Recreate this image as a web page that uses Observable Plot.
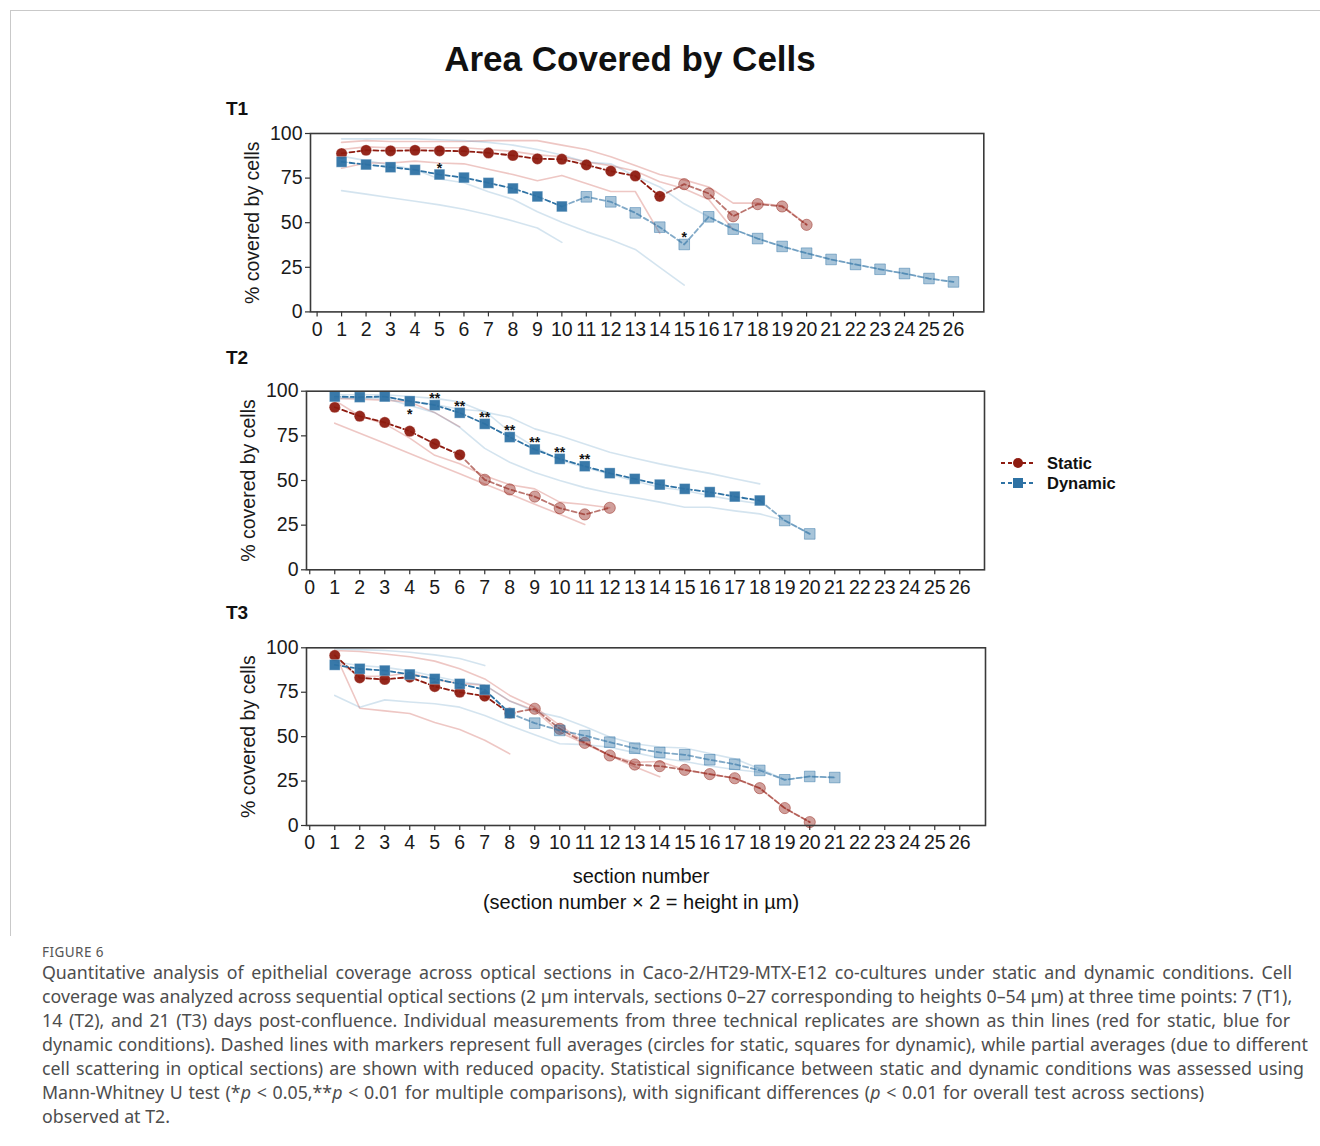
<!DOCTYPE html>
<html><head><meta charset="utf-8">
<script src="https://cdn.jsdelivr.net/npm/d3@7"></script>
<script src="https://cdn.jsdelivr.net/npm/@observablehq/plot@0.6"></script>
<style>
body{margin:0;background:#fff;width:1320px;height:1146px;position:relative;overflow:hidden;font-family:"Liberation Sans",Arial,sans-serif;color:#111;}
.abs{position:absolute;white-space:nowrap;line-height:1;}
.cap{position:absolute;left:42px;white-space:nowrap;font-family:"Noto Sans",sans-serif;font-size:16.6px;color:#4d4d4d;line-height:1;}
.panel svg, .panel svg text{font-family:"Liberation Sans",Arial,sans-serif !important;}
</style></head><body>
<div class="abs" style="left:10px;top:10px;width:1310px;height:925px;border-top:1px solid #c9c9c9;border-left:1px solid #c9c9c9;"></div>
<div class="abs" style="left:0;width:1260px;top:41px;text-align:center;font-weight:bold;font-size:35px;">Area Covered by Cells</div>
<div class="abs" style="left:226px;top:99px;font-weight:bold;font-size:19px;">T1</div>
<div class="abs" style="left:226px;top:348px;font-weight:bold;font-size:19px;">T2</div>
<div class="abs" style="left:226px;top:603px;font-weight:bold;font-size:19px;">T3</div>
<div id="p1" class="abs panel" style="left:0;top:120px;"></div>
<div id="p2" class="abs panel" style="left:0;top:377px;"></div>
<div id="p3" class="abs panel" style="left:0;top:634px;"></div>
<div id="legend" class="abs" style="left:998px;top:452px;"></div>
<div class="abs" style="left:0;width:1282px;top:866px;text-align:center;font-size:20px;">section number</div>
<div class="abs" style="left:0;width:1282px;top:892px;text-align:center;font-size:20px;">(section number × 2 = height in µm)</div>
<div class="cap" style="top:946px;font-size:13.5px;letter-spacing:0.45px;color:#555;">FIGURE 6</div>
<div id="caption"></div>
<script>
// ---------- DATA ----------
const xTicks = [0,1,2,3,4,5,6,7,8,9,10,11,12,13,14,15,16,17,18,19,20,21,22,23,24,25,26];
const yTicks = [0,25,50,75,100];
const seriesNames = ["Static","Dynamic"];

// T1 (7 days) — averages start at section 1
const t1StaticMean  = [88.8,90.6,90.3,90.6,90.3,90.1,89.1,87.7,85.8,85.6,82.4,78.9,76.2,64.8,71.6,66.4,53.6,60.4,59.1,48.8];
const t1StaticFull  = 14;
const t1DynamicMean = [84.1,82.6,81.1,79.6,77.0,75.3,72.3,69.2,64.7,59.1,64.5,61.7,55.5,47.5,37.8,53.3,46.4,41.1,36.7,32.9,29.4,26.6,23.9,21.5,18.7,16.8];
const t1DynamicFull = 10;
const t1StaticRep1  = [95,96,95.5,95.5,95.5,95.5,96,96,96,93.5,91,87,82,77,74,70,61,61,59.5,49];
const t1StaticRep2  = [91,92.5,92,92,92,92,91,90,88,87,84,82,79,73,69,63,46];
const t1StaticRep3  = [80.5,83.5,83.5,84.5,83.5,83,80,77,73.5,76.5,72,67.5,67.5,44];
const t1DynamicRep1 = [97,97,97,97,96.5,96,95,93.5,91,88,84,83,76,70,60.6,53.3,46.4,41.1,36.7,32.9,29.4,26.6,23.9,21.5,18.7,16.8];
const t1DynamicRep2 = [87.3,84.8,82.3,79.8,74.5,72.4,67.4,63.1,56.1,50.3,45,40.4,35,25,15];
const t1DynamicRep3 = [68,66,64,62,60,57.5,54.5,51,47,39];
const t1StarSections = [5,15];
const t1StarLabels   = ["*","*"];
const t1StarBelow    = [false,false];

// T2 (14 days)
const t2StaticMean  = [91.0,86.0,82.5,77.6,70.5,64.4,50.4,45.0,41.0,34.5,31.0,34.7];
const t2StaticFull  = 6;
const t2DynamicMean = [97.0,96.7,97.0,94.4,92.2,87.9,81.7,74.3,67.4,62.1,58.0,54.1,50.9,47.7,45.3,43.5,41.0,38.8,27.6,20.1];
const t2DynamicFull = 18;
const t2StaticRep1  = [96,95.5,95,94,88,80];
const t2StaticRep2  = [94.9,86.1,81.7,73.7,64.1,59.4,52.7,47.6,45.3,37.9,36.6,34.7];
const t2StaticRep3  = [82.1,76.4,70.8,65.1,59.4,53.8,48.1,42.4,36.7,31.1,25.4];
const t2DynamicRep1 = [98,98,98,97,96,94,88.3,85.4,78.9,75,70.5,65.8,62.5,59.3,56.5,54,51,48.1];
const t2DynamicRep2 = [96,96.1,97,94.2,92.6,89.9,88.8,77.3,68.8,61.3,57.5,53.5,49.7,46.2,44.4,41.5,39,37];
const t2DynamicRep3 = [97,96,96,92,88,79.8,68,60.2,54.5,50,46,43,40.5,37.9,35,35,33,31.3,27.6,20.1];
const t2StarSections = [4,5,6,7,8,9,10,11];
const t2StarLabels   = ["*","**","**","**","**","**","**","**"];
const t2StarBelow    = [true,false,false,false,false,false,false,false];

// T3 (21 days)
const t3StaticMean  = [95.7,83.1,82.2,83.5,78.2,75.0,72.8,63.2,65.7,54.4,46.5,39.4,34.3,33.4,31.3,28.9,26.6,21.0,9.8,1.9];
const t3StaticFull  = 8;
const t3DynamicMean = [90.4,88.2,87.2,85.0,82.5,79.7,76.4,63.2,57.6,53.5,50.6,46.9,43.5,41.1,39.8,37.0,34.5,31.0,25.7,27.6,27.0];
const t3DynamicFull = 8;
const t3StaticRep1  = [98.5,97.9,96.5,95,92.5,88.2,82.5,73.2,66.6,56.3,46.9,39.4,33,27.5];
const t3StaticRep2  = [93,84,84,86,82,80,79,70,64.8,52.5,46,39.4,35.6,36,31.3,28.9,26.6,21,9.8,1.9];
const t3StaticRep3  = [97,66,64.5,63,58,54,48,40.3];
const t3DynamicRep1 = [99.4,99,98.5,97.5,96,94,90];
const t3DynamicRep2 = [92,90,89,87,84,81,79,70.1,64.2,61,55.7,49.8,46,44.2,43.6,40.5,37.5,32,25.7,27.6,27.0];
const t3DynamicRep3 = [73.2,66.6,70.7,69.5,68.5,66.6,61.9,56.3,51,46,45.5,44,41,38,36,33.5,31.5,30];
const t3StarSections = [];
const t3StarLabels   = [];
const t3StarBelow    = [];

// ---------- STYLE ----------
const RED = "#8e1b10", BLUE = "#2e72a4";
const FONT = "'Liberation Sans', Arial, sans-serif";

const rows = (vals, rep) => vals.map((v, i) => ({x: i + 1, y: v, rep}));

function panel(cfg) {
  const sMean = rows(cfg.sMean), dMean = rows(cfg.dMean);
  const sReps = cfg.sReps.flatMap((r, k) => rows(r, k));
  const dReps = cfg.dReps.flatMap((r, k) => rows(r, k));
  const stars = cfg.starSections.map((s, i) => ({x: s, y: cfg.dMean[s - 1], label: cfg.starLabels[i], below: cfg.starBelow[i]}));
  const meanMarks = (data, full, color, symbol, r) => [
    Plot.line(data.filter(d => d.x >= full), {x: "x", y: "y", stroke: color, strokeWidth: 1.8, strokeDasharray: "5,3", strokeOpacity: 0.6}),
    Plot.line(data.filter(d => d.x <= full), {x: "x", y: "y", stroke: color, strokeWidth: 1.8, strokeDasharray: "5,3"}),
    Plot.dot(data.filter(d => d.x > full), {x: "x", y: "y", symbol, r, fill: color, fillOpacity: 0.42, stroke: color, strokeOpacity: 0.45, strokeWidth: 1}),
    Plot.dot(data.filter(d => d.x <= full), {x: "x", y: "y", symbol, r, fill: color, fillOpacity: 0.95, stroke: "white", strokeOpacity: 0.5, strokeWidth: 0.6})
  ];
  return Plot.plot({
    width: 1000, height: cfg.height,
    marginLeft: cfg.ml, marginRight: cfg.mr, marginTop: cfg.mt, marginBottom: cfg.mb,
    x: {domain: cfg.xDomain},
    y: {domain: [0, 100]},
    style: {fontFamily: FONT, fontSize: "19.5px", color: "#1a1a1a", background: "transparent", overflow: "visible"},
    marks: [
      Plot.axisX({ticks: xTicks, tickSize: 5, tickPadding: 5, tickFormat: d => String(d), label: null, stroke: "#333", strokeWidth: 1.2}),
      Plot.axisY({ticks: yTicks, tickSize: 5, tickPadding: 3, label: "% covered by cells", labelAnchor: "center", labelArrow: false, labelOffset: 65, stroke: "#333", strokeWidth: 1.2}),
      Plot.line(sReps, {x: "x", y: "y", z: "rep", stroke: "#c8473b", strokeOpacity: 0.3, strokeWidth: 1.6}),
      Plot.line(dReps, {x: "x", y: "y", z: "rep", stroke: "#3a84b8", strokeOpacity: 0.22, strokeWidth: 1.6}),
      ...meanMarks(sMean, cfg.sFull, RED, "circle", 5.6),
      ...meanMarks(dMean, cfg.dFull, BLUE, "square", 6),
      Plot.text(stars, {x: "x", y: "y", text: "label", fontSize: 14, fontWeight: "bold", fill: "#111", lineAnchor: "middle"}),
      Plot.frame({stroke: "#3a3a3a", strokeWidth: 1.6})
    ]
  });
}

function fixStars(svg, cfg) {
  // stars sit about 10px above (or below) the dynamic marker
  const texts = svg.querySelectorAll('g[aria-label="text"] text');
  texts.forEach((t, i) => {
    t.setAttribute("dy", cfg.starBelow[i] ? "13.5" : "-6.5");
  });
}

const cfgs = [
  {el: "p1", height: 226, ml: 310, mr: 16.7, mt: 13, mb: 34.6, xDomain: [-0.27, 27.24],
   sMean: t1StaticMean, dMean: t1DynamicMean, sFull: t1StaticFull, dFull: t1DynamicFull,
   sReps: [t1StaticRep1, t1StaticRep2, t1StaticRep3], dReps: [t1DynamicRep1, t1DynamicRep2, t1DynamicRep3],
   starSections: t1StarSections, starLabels: t1StarLabels, starBelow: t1StarBelow},
  {el: "p2", height: 227, ml: 306, mr: 16, mt: 13.7, mb: 34.7, xDomain: [-0.13, 26.99],
   sMean: t2StaticMean, dMean: t2DynamicMean, sFull: t2StaticFull, dFull: t2DynamicFull,
   sReps: [t2StaticRep1, t2StaticRep2, t2StaticRep3], dReps: [t2DynamicRep1, t2DynamicRep2, t2DynamicRep3],
   starSections: t2StarSections, starLabels: t2StarLabels, starBelow: t2StarBelow},
  {el: "p3", height: 226, ml: 306, mr: 15, mt: 13.3, mb: 35, xDomain: [-0.13, 27.03],
   sMean: t3StaticMean, dMean: t3DynamicMean, sFull: t3StaticFull, dFull: t3DynamicFull,
   sReps: [t3StaticRep1, t3StaticRep2, t3StaticRep3], dReps: [t3DynamicRep1, t3DynamicRep2, t3DynamicRep3],
   starSections: t3StarSections, starLabels: t3StarLabels, starBelow: t3StarBelow}
];
for (const c of cfgs) {
  const svg = panel(c);
  fixStars(svg, c);
  document.getElementById(c.el).appendChild(svg);
}

// ---------- LEGEND ----------
const legend = document.getElementById("legend");
legend.innerHTML = `
<svg width="40" height="42" style="position:absolute;left:0;top:0;overflow:visible">
  <line x1="3" x2="37" y1="11" y2="11" stroke="${RED}" stroke-width="1.8" stroke-dasharray="4,3"/>
  <circle cx="20" cy="11" r="5" fill="${RED}"/>
  <line x1="3" x2="37" y1="31" y2="31" stroke="${BLUE}" stroke-width="1.8" stroke-dasharray="4,3"/>
  <rect x="15" y="26" width="10" height="10" fill="${BLUE}"/>
</svg>
<div class="abs" style="left:49px;top:3px;font-weight:bold;font-size:16.5px;">${seriesNames[0]}</div>
<div class="abs" style="left:49px;top:23px;font-weight:bold;font-size:16.5px;">${seriesNames[1]}</div>`;

// ---------- CAPTION ----------
const captionLines = [
  "Quantitative analysis of epithelial coverage across optical sections in Caco-2/HT29-MTX-E12 co-cultures under static and dynamic conditions. Cell",
  "coverage was analyzed across sequential optical sections (2 µm intervals, sections 0–27 corresponding to heights 0–54 µm) at three time points: 7 (T1),",
  "14 (T2), and 21 (T3) days post-confluence. Individual measurements from three technical replicates are shown as thin lines (red for static, blue for",
  "dynamic conditions). Dashed lines with markers represent full averages (circles for static, squares for dynamic), while partial averages (due to different",
  "cell scattering in optical sections) are shown with reduced opacity. Statistical significance between static and dynamic conditions was assessed using",
  "Mann-Whitney U test (*<i>p</i> &lt; 0.05,**<i>p</i> &lt; 0.01 for multiple comparisons), with significant differences (<i>p</i> &lt; 0.01 for overall test across sections)",
  "observed at T2."
];
// right edge of each caption line in the figure (last line is left as is)
const captionRightEdges = [1292, 1292, 1290, 1308, 1304, 1204, null];
const cap = document.getElementById("caption");
const capDivs = captionLines.map((t) => {
  const d = document.createElement("div");
  d.className = "cap";
  d.innerHTML = t;
  cap.appendChild(d);
  return d;
});
const base = 16.6;
const ratios = capDivs.map((d, i) => captionRightEdges[i] ? (captionRightEdges[i] - 42) / d.getBoundingClientRect().width : Infinity);
const capSize = base * Math.min(...ratios);
capDivs.forEach((d, i) => {
  d.style.fontSize = capSize + "px";
  d.style.top = (973.5 - capSize * 0.55 + 24 * i) + "px";
});
capDivs.forEach((d, i) => {
  const target = captionRightEdges[i];
  if (!target) return;
  const w = d.getBoundingClientRect().width;
  const spaces = (d.textContent.match(/ /g) || []).length;
  if (spaces > 0 && target - 42 > w) d.style.wordSpacing = ((target - 42 - w) / spaces) + "px";
});
</script>
</body></html>
